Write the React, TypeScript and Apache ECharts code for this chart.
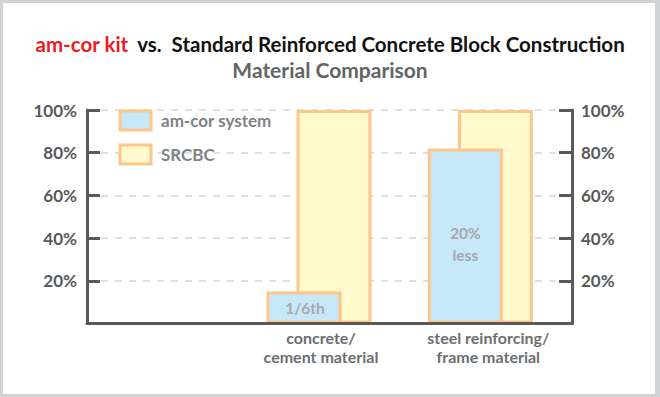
import React, { useEffect, useRef } from "react";
import * as echarts from "echarts";

const categories = ["", "concrete/\ncement material", "steel reinforcing/\nframe material"];
const seriesNames = ["am-cor system", "SRCBC"];
const amCorValues: (number | string)[] = ["-", 15, 82];
const srcbcValues: (number | string)[] = ["-", 100, 100];
const amCorLabels = ["", "1/6th", "20%\nless"];
const yTickLabels = ["", "20%", "40%", "60%", "80%", "100%"];

export default function App() {
  const ref = useRef<HTMLDivElement>(null);
  useEffect(() => {
    const chart = echarts.init(ref.current!, null, { renderer: "svg" });
    const font = "Lato, 'Open Sans', sans-serif";
    const axisColor = "#58595b";
    const borderColor = "#fdc68a";
    const yLabel = {
      formatter: (v: number) => yTickLabels[Math.round(v / 20)],
      color: axisColor,
      fontSize: 17,
      fontWeight: "bold",
      fontFamily: font,
      margin: 10,
    };
    const xLabelStyle = {
      color: "#6d6e71",
      fontSize: 16,
      fontWeight: "bold",
      fontFamily: font,
      lineHeight: 19,
    };
    const option = {
      animation: false,
      backgroundColor: "#ffffff",
      textStyle: { fontFamily: font },
      title: [
        {
          text: "{r|am-cor kit}  {k|vs.  Standard Reinforced Concrete Block Construction}",
          left: "center",
          top: 33,
          padding: 0,
          textStyle: {
            rich: {
              r: { color: "#ed1c24", fontSize: 20.5, fontWeight: "bold", fontFamily: font },
              k: { color: "#111111", fontSize: 20.5, fontWeight: "bold", fontFamily: font },
            },
          },
        },
        {
          text: "Material Comparison",
          left: "center",
          top: 59,
          padding: 0,
          textStyle: { color: "#636466", fontSize: 21, fontWeight: "bold", fontFamily: font },
        },
      ],
      legend: {
        data: seriesNames,
        orient: "vertical",
        left: 118.5,
        top: 109.5,
        padding: 0,
        itemWidth: 31,
        itemHeight: 19,
        itemGap: 12,
        icon: "rect",
        itemStyle: { borderColor: borderColor, borderWidth: 3 },
        textStyle: {
          color: "#808285",
          fontSize: 17,
          lineHeight: 19,
          fontWeight: "bold",
          fontFamily: font,
          padding: [0, 0, 0, 5],
        },
      },
      grid: [
        { left: 87, right: 88, top: 110, bottom: 73.5 },
        { left: 77, right: 99, top: 110, bottom: 73.5 },
      ],
      xAxis: [
        {
          gridIndex: 0,
          type: "category",
          data: categories,
          z: 10,
          axisLine: { show: true, lineStyle: { color: axisColor, width: 3 } },
          axisTick: { show: false },
          axisLabel: { show: false },
        },
        {
          gridIndex: 1,
          type: "category",
          data: categories,
          axisLine: { show: false },
          axisTick: { show: false },
          axisLabel: {
            ...xLabelStyle,
            margin: 4,
            interval: 0,
            formatter: (value: string, index: number) =>
              index === 1 ? `{c|${value}}` : index === 2 ? `{s|${value}}` : value,
            rich: {
              c: { ...xLabelStyle, padding: [0, 0, 0, 4] },
              s: { ...xLabelStyle, padding: [0, 0, 0, 16] },
            },
          },
        },
      ],
      yAxis: [
        {
          gridIndex: 0,
          type: "value",
          position: "left",
          min: 0,
          max: 100,
          interval: 20,
          z: 0,
          axisLine: { show: true, lineStyle: { color: axisColor, width: 3 } },
          axisTick: { show: true, inside: true, length: 13, lineStyle: { color: axisColor, width: 3 } },
          axisLabel: yLabel,
          splitLine: { show: true, lineStyle: { color: "#d6d6d6", width: 1.5, type: [7, 7] } },
        },
        {
          gridIndex: 0,
          type: "value",
          position: "right",
          min: 0,
          max: 100,
          interval: 20,
          z: 10,
          axisLine: { show: true, lineStyle: { color: axisColor, width: 3 } },
          axisTick: { show: true, inside: true, length: 13, lineStyle: { color: axisColor, width: 3 } },
          axisLabel: { ...yLabel, margin: 9 },
          splitLine: { show: false },
        },
        {
          gridIndex: 1,
          type: "value",
          min: 0,
          max: 100,
          show: false,
        },
      ],
      series: [
        {
          name: seriesNames[0],
          type: "bar",
          xAxisIndex: 1,
          yAxisIndex: 2,
          z: 4,
          barWidth: 75,
          barGap: "-60%",
          itemStyle: { color: "#c6e8f9", borderColor: borderColor, borderWidth: 3 },
          data: amCorValues.map((v, i) => ({
            value: v,
            label: {
              show: !!amCorLabels[i],
              formatter: amCorLabels[i],
              position: "inside",
              offset: i === 2 ? [0, 8] : [1, 1],
              color: "#a7a9ac",
              fontSize: 15.5,
              fontWeight: "bold",
              fontFamily: font,
              lineHeight: 22,
            },
          })),
        },
        {
          name: seriesNames[1],
          type: "bar",
          xAxisIndex: 1,
          yAxisIndex: 2,
          z: 3,
          barWidth: 75,
          barGap: "-60%",
          itemStyle: { color: "#fff9cc", borderColor: borderColor, borderWidth: 3 },
          data: srcbcValues,
        },
      ],
    };
    chart.setOption(option as any);
    return () => chart.dispose();
  }, []);
  return (
    <div style={{ position: "absolute", left: 0, top: 0, width: 660, height: 397 }}>
      <div ref={ref} style={{ position: "absolute", left: 0, top: 0, width: 660, height: 397 }} />
      <div
        style={{
          position: "absolute",
          left: 0,
          top: 0,
          width: 660,
          height: 397,
          boxSizing: "border-box",
          borderStyle: "solid",
          borderColor: "#d1d2d4",
          borderWidth: "3px 5px 3px 3px",
          pointerEvents: "none",
        }}
      />
    </div>
  );
}
